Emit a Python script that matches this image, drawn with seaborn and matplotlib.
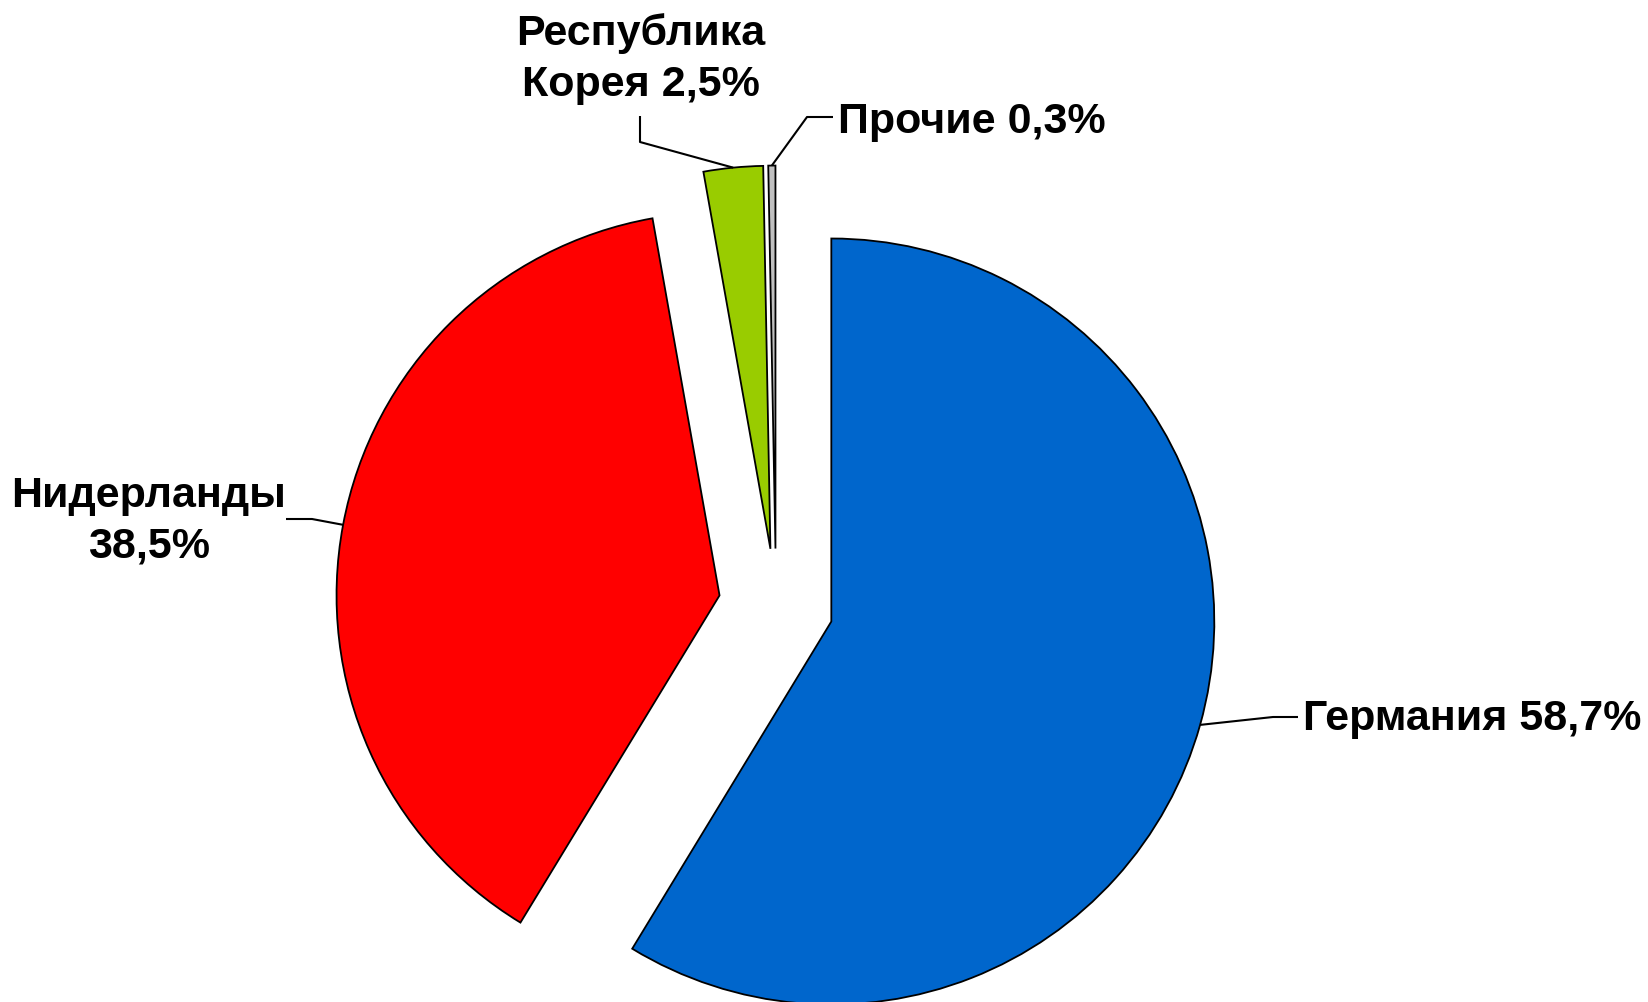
import matplotlib
matplotlib.use("Agg")
import matplotlib.pyplot as plt
import seaborn as sns
import numpy as np

# Data
countries = ["Германия", "Нидерланды", "Республика\nКорея", "Прочие"]
shares = [58.7, 38.5, 2.5, 0.3]
label_texts = ["Германия 58,7%", "Нидерланды\n38,5%", "Республика\nКорея 2,5%", "Прочие 0,3%"]
colors = ["#0066CC", "#FF0000", "#99CC00", "#C0C0C0"]

sns.set_theme(style="white")
plt.rcParams['font.family'] = ['Liberation Sans', 'DejaVu Sans']

W, H = 1648, 1002
fig = plt.figure(figsize=(W / 100, H / 100), dpi=100)
ax = fig.add_axes([0, 0, 1, 1])

# pixel layout helpers
CX, CY, R = 776.0, 606.0, 383.0
def px(x, y):
    return ((x - CX) / R, (CY - y) / R)

wedges, _ = ax.pie(shares, colors=colors, startangle=90, counterclock=False,
                   explode=[0.15] * len(shares), radius=1.0,
                   wedgeprops=dict(edgecolor="black", linewidth=1.3))

ax.set_xlim(-CX / R, (W - CX) / R)
ax.set_ylim(-(H - CY) / R, CY / R)
ax.set_aspect("auto")
ax.axis("off")

# leader elbows/ends and label positions (pixel layout)
elbows = [(1273, 717), (312, 519), (640, 142), (807, 117)]
ends = [(1298, 717), (286, 519), (640, 116), (833, 117)]
text_pos = [(1303, 719, "left"), (149, 521, "center"), (641, 59, "center"), (838, 122, "left")]

for w, el, en, (tx, ty, ha), lab in zip(wedges, elbows, ends, text_pos, label_texts):
    mid = np.deg2rad((w.theta1 + w.theta2) / 2)
    ax_x = w.center[0] + w.r * np.cos(mid)
    ax_y = w.center[1] + w.r * np.sin(mid)
    e1 = px(*el)
    e2 = px(*en)
    ax.plot([ax_x, e1[0], e2[0]], [ax_y, e1[1], e2[1]], color="black", lw=1.5,
            solid_capstyle="butt", zorder=5)
    t = px(tx, ty)
    ax.text(t[0], t[1], lab, ha=ha, va="center", fontsize=31, fontweight="bold",
            color="black", linespacing=1.33, multialignment="center")

fig.savefig("out.png", dpi=100, facecolor="white")
